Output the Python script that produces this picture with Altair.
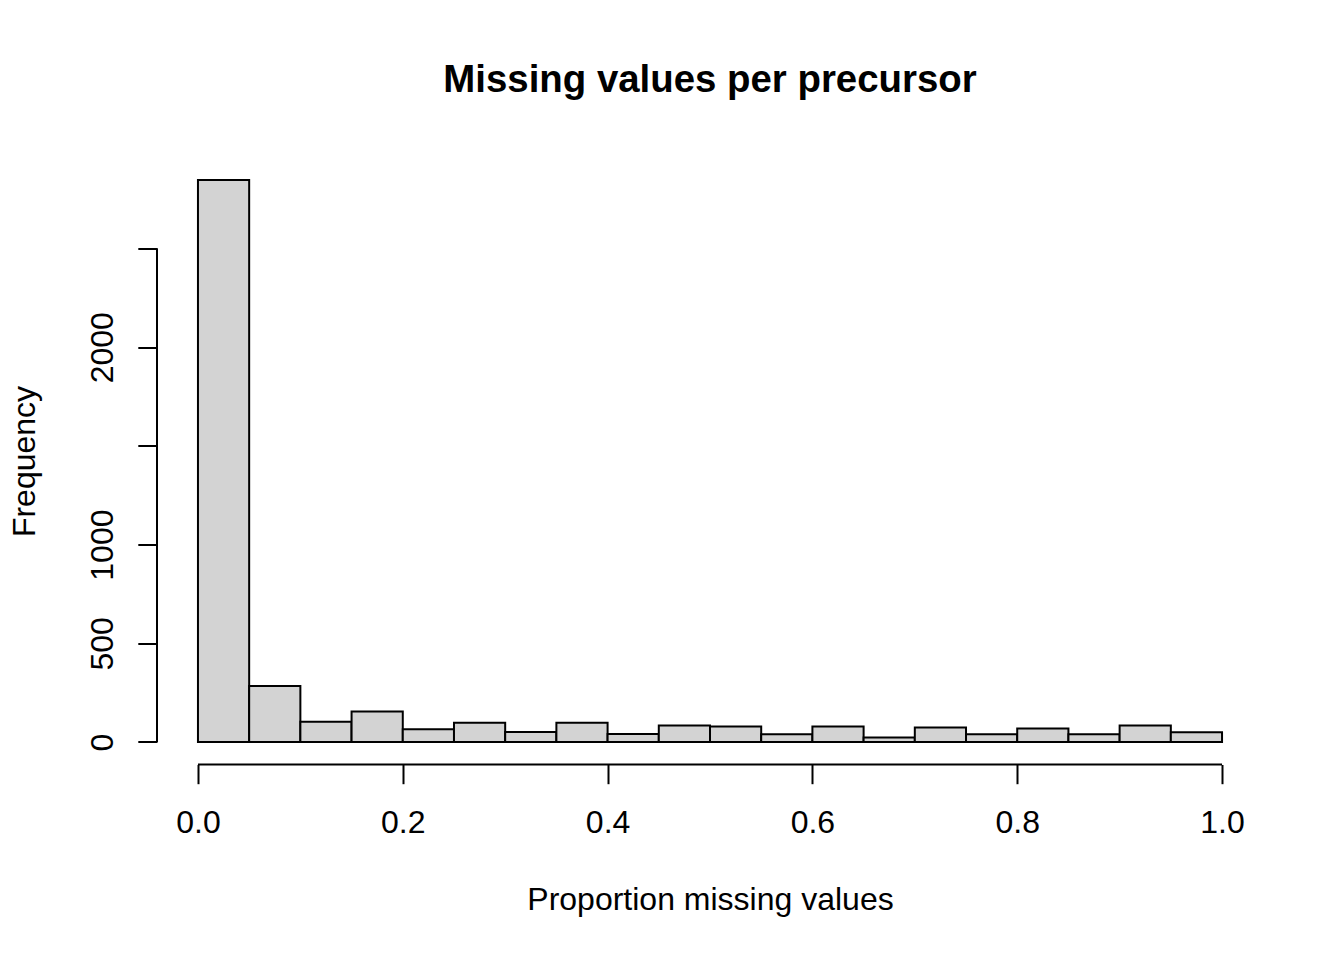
import altair as alt
import pandas as pd

# Histogram bins (proportion of missing values) and counts
bin_start = [0.00, 0.05, 0.10, 0.15, 0.20, 0.25, 0.30, 0.35, 0.40, 0.45,
             0.50, 0.55, 0.60, 0.65, 0.70, 0.75, 0.80, 0.85, 0.90, 0.95]
bin_end = [0.05, 0.10, 0.15, 0.20, 0.25, 0.30, 0.35, 0.40, 0.45, 0.50,
           0.55, 0.60, 0.65, 0.70, 0.75, 0.80, 0.85, 0.90, 0.95, 1.00]
counts = [2847, 284, 103, 154, 64, 98, 51, 98, 41, 84,
          78, 39, 78, 23, 74, 39, 68, 39, 84, 49]

x_ticks = [0.0, 0.2, 0.4, 0.6, 0.8, 1.0]
y_ticks = [0, 500, 1000, 1500, 2000, 2500]

df = pd.DataFrame({"start": bin_start, "end": bin_end, "count": counts})

FONT = "Liberation Sans"
W, H = 1106, 607

xscale = alt.Scale(domain=[-0.04, 1.04], nice=False, zero=False)
yscale = alt.Scale(domain=[-114, 2961], nice=False, zero=False)

x_axis = alt.Axis(
    values=x_ticks, format=".1f", domain=False, grid=False,
    tickSize=19.2, tickWidth=2, tickColor="black",
    labelFont=FONT, labelFontSize=32, labelColor="black",
    labelBaseline="alphabetic", labelPadding=48.5, labelOverlap=False,
    labelFlush=False,
    title="Proportion missing values", titleFont=FONT, titleFontSize=32,
    titleFontWeight="normal", titleColor="black", titleBaseline="alphabetic",
    titleY=144.5, titleX=W / 2,
)
y_axis = alt.Axis(
    values=y_ticks, format="d", domain=False, grid=False,
    tickSize=19.2, tickWidth=2, tickColor="black",
    labelFont=FONT, labelFontSize=32, labelColor="black",
    labelAngle=-90, labelAlign="center", labelBaseline="alphabetic",
    labelPadding=25.7, labelOverlap=False, labelFlush=False,
    labelExpr="(datum.value == 1500 || datum.value == 2500) ? '' : datum.label",
    title="Frequency", titleFont=FONT, titleFontSize=32,
    titleFontWeight="normal", titleColor="black", titleAngle=-90,
    titleAlign="center", titleBaseline="alphabetic",
    titleX=-123, titleY=H / 2,
)

bars = alt.Chart(df).mark_rect(
    fill="#D3D3D3", stroke="black", strokeWidth=2
).encode(
    x=alt.X("start:Q", scale=xscale, axis=x_axis),
    x2="end:Q",
    y=alt.Y("count:Q", scale=yscale, axis=y_axis),
    y2=alt.datum(0),
)

x_line = alt.Chart().mark_rule(color="black", strokeWidth=2).encode(
    x=alt.datum(x_ticks[0], scale=xscale),
    x2=alt.datum(x_ticks[-1]),
    y=alt.value(H),
)
y_line = alt.Chart().mark_rule(color="black", strokeWidth=2).encode(
    x=alt.value(0),
    y=alt.datum(y_ticks[0], scale=yscale),
    y2=alt.datum(y_ticks[-1]),
)

chart = alt.layer(bars, x_line, y_line).properties(
    width=W, height=H,
    background="white",
    title=alt.TitleParams(
        "Missing values per precursor", font=FONT, fontSize=38.4,
        fontWeight="bold", color="black", anchor="middle",
        baseline="alphabetic", offset=27.5,
    ),
    padding={"left": 149, "top": 149.5, "right": 60, "bottom": 180},
    autosize=alt.AutoSizeParams(type="none"),
).configure_view(strokeWidth=0, stroke="transparent")

chart.save("out.html", embed_options={"renderer": "svg", "actions": False})
